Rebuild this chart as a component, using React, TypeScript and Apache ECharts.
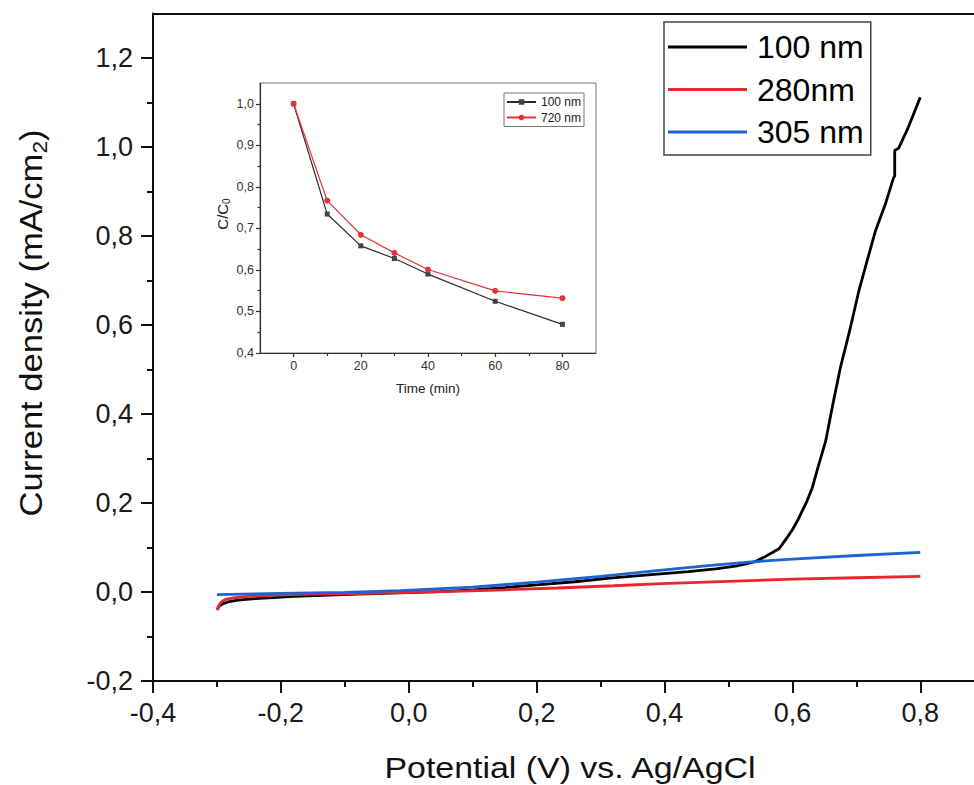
import React, { useEffect, useRef } from 'react';
import * as echarts from 'echarts';

const FONT = '"Liberation Sans", Arial, Helvetica, sans-serif';

// ---- Main chart: linear sweep voltammetry ----
const pot100 = [-0.300, -0.296, -0.290, -0.284, -0.270, -0.259, -0.240, -0.218, -0.180, -0.136, -0.080, -0.013, 0.050, 0.101, 0.150, 0.200, 0.260, 0.314, 0.370, 0.437, 0.480, 0.511, 0.530, 0.543, 0.558, 0.568, 0.579, 0.593, 0.600, 0.609, 0.615, 0.623, 0.631, 0.641, 0.652, 0.663, 0.675, 0.690, 0.704, 0.717, 0.730, 0.745, 0.758, 0.760, 0.760, 0.766, 0.780, 0.800];
const cur100 = [-0.040, -0.031, -0.026, -0.023, -0.019, -0.017, -0.015, -0.013, -0.010, -0.0075, -0.005, -0.002, 0.001, 0.005, 0.010, 0.016, 0.023, 0.031, 0.038, 0.046, 0.052, 0.058, 0.064, 0.069, 0.080, 0.088, 0.097, 0.125, 0.140, 0.163, 0.181, 0.205, 0.234, 0.285, 0.339, 0.420, 0.504, 0.590, 0.677, 0.745, 0.812, 0.870, 0.930, 0.935, 0.992, 0.997, 1.040, 1.112];

const pot280 = [-0.300, -0.296, -0.292, -0.285, -0.275, -0.250, -0.218, -0.150, -0.095, 0.000, 0.069, 0.150, 0.232, 0.320, 0.396, 0.500, 0.601, 0.700, 0.800];
const cur280 = [-0.040, -0.028, -0.021, -0.016, -0.0135, -0.010, -0.0075, -0.005, -0.004, -0.001, 0.0015, 0.005, 0.009, 0.014, 0.019, 0.024, 0.029, 0.032, 0.035];

const pot305 = [-0.300, -0.200, -0.100, -0.013, 0.100, 0.200, 0.300, 0.396, 0.460, 0.531, 0.600, 0.700, 0.800];
const cur305 = [-0.006, -0.003, -0.001, 0.003, 0.011, 0.022, 0.035, 0.049, 0.058, 0.067, 0.074, 0.082, 0.089];

const mainXLabels = [-0.4, -0.2, 0, 0.2, 0.4, 0.6, 0.8];
const mainXMinor = [-0.3, -0.1, 0.1, 0.3, 0.5, 0.7];
const mainYLabels = [-0.2, 0, 0.2, 0.4, 0.6, 0.8, 1.0, 1.2];
const mainYMinor = [-0.1, 0.1, 0.3, 0.5, 0.7, 0.9, 1.1];

// ---- Inset: C/C0 vs time ----
const timeMin = [0, 10, 20, 30, 40, 60, 80];
const ratio100 = [1.0, 0.7345, 0.658, 0.6275, 0.590, 0.5245, 0.469];
const ratio720 = [1.0, 0.7667, 0.6846, 0.641, 0.601, 0.5495, 0.532];

const insetXLabels = [0, 20, 40, 60, 80];
const insetXMinor = [10, 30, 50, 70];
const insetYLabels = [0.4, 0.5, 0.6, 0.7, 0.8, 0.9, 1.0];
const insetYMinor = [0.45, 0.55, 0.65, 0.75, 0.85, 0.95];

const pair = (xs: number[], ys: number[]) => xs.map((x, i) => [x, ys[i]]);
const comma = (v: number) => v.toFixed(1).replace('.', ',');

const AX = '#111';
const INSET_AX = '#333';

export default function App() {
  const ref = useRef<HTMLDivElement>(null);

  useEffect(() => {
    const chart = echarts.init(ref.current!, null, { renderer: 'svg' });
    const option: any = {
      animation: false,
      backgroundColor: '#ffffff',
      grid: [
        { left: 153, right: 0, top: 13.5, bottom: 104 },
        { left: 260, top: 83, width: 336, height: 270, show: true, borderColor: '#777', borderWidth: 1, backgroundColor: 'transparent' },
      ],
      xAxis: [
        {
          type: 'value', gridIndex: 0, min: -0.4, max: 0.884, position: 'bottom',
          axisLine: { show: true, onZero: false, lineStyle: { color: AX, width: 2 } },
          axisTick: { show: true, customValues: mainXLabels, length: 12, lineStyle: { color: AX, width: 2 } },
          axisLabel: { customValues: mainXLabels, margin: 18, fontSize: 27, color: '#1a1a1a', fontFamily: FONT, formatter: comma },
          splitLine: { show: false },
        },
        {
          type: 'value', gridIndex: 0, min: -0.4, max: 0.884, position: 'bottom',
          axisLine: { show: false, onZero: false },
          axisTick: { show: true, customValues: mainXMinor, length: 6, lineStyle: { color: AX, width: 2 } },
          axisLabel: { show: false },
          splitLine: { show: false },
        },
        {
          type: 'value', gridIndex: 0, min: -0.4, max: 0.884, position: 'top',
          axisLine: { show: true, onZero: false, lineStyle: { color: AX, width: 2 } },
          axisTick: { show: false }, axisLabel: { show: false }, splitLine: { show: false },
        },
        {
          type: 'value', gridIndex: 1, min: -10, max: 90, position: 'bottom',
          axisLine: { show: true, onZero: false, lineStyle: { color: INSET_AX, width: 1.2 } },
          axisTick: { show: true, customValues: insetXLabels, length: 4, lineStyle: { color: INSET_AX, width: 1.2 } },
          axisLabel: { customValues: insetXLabels, margin: 6, fontSize: 12.5, color: '#333', fontFamily: FONT },
          splitLine: { show: false },
        },
        {
          type: 'value', gridIndex: 1, min: -10, max: 90, position: 'bottom',
          axisLine: { show: false, onZero: false },
          axisTick: { show: true, customValues: insetXMinor, length: 3, lineStyle: { color: INSET_AX, width: 1.2 } },
          axisLabel: { show: false }, splitLine: { show: false },
        },
      ],
      yAxis: [
        {
          type: 'value', gridIndex: 0, min: -0.2, max: 1.3, position: 'left',
          axisLine: { show: true, onZero: false, lineStyle: { color: AX, width: 2 } },
          axisTick: { show: true, customValues: mainYLabels, length: 12, lineStyle: { color: AX, width: 2 } },
          axisLabel: { customValues: mainYLabels, margin: 20, fontSize: 27, color: '#1a1a1a', fontFamily: FONT, formatter: comma },
          splitLine: { show: false },
        },
        {
          type: 'value', gridIndex: 0, min: -0.2, max: 1.3, position: 'left',
          axisLine: { show: false, onZero: false },
          axisTick: { show: true, customValues: mainYMinor, length: 6, lineStyle: { color: AX, width: 2 } },
          axisLabel: { show: false }, splitLine: { show: false },
        },
        {
          type: 'value', gridIndex: 1, min: 0.4, max: 1.05, position: 'left',
          axisLine: { show: true, onZero: false, lineStyle: { color: INSET_AX, width: 1.2 } },
          axisTick: { show: true, customValues: insetYLabels, length: 4, lineStyle: { color: INSET_AX, width: 1.2 } },
          axisLabel: { customValues: insetYLabels, margin: 6, fontSize: 12.5, color: '#333', fontFamily: FONT, formatter: comma },
          splitLine: { show: false },
        },
        {
          type: 'value', gridIndex: 1, min: 0.4, max: 1.05, position: 'left',
          axisLine: { show: false, onZero: false },
          axisTick: { show: true, customValues: insetYMinor, length: 2.5, lineStyle: { color: INSET_AX, width: 1.2 } },
          axisLabel: { show: false }, splitLine: { show: false },
        },
      ],
      legend: [
        {
          data: ['100 nm', '280nm', '305 nm'],
          orient: 'vertical', left: 664, top: 22,
          icon: 'rect', itemWidth: 79, itemHeight: 3, itemGap: 2.5,
          padding: [5, 7, 3, 4],
          borderColor: '#444', borderWidth: 1.5, backgroundColor: '#fff',
          selectedMode: false,
          textStyle: { fontSize: 32, color: '#000', fontFamily: FONT, lineHeight: 40, padding: [0, 0, 0, 5] },
          z: 10,
        },
        {
          data: ['inset-100', 'inset-720'],
          orient: 'vertical', left: 504, top: 93,
          itemWidth: 29, itemHeight: 7, itemGap: 1.5,
          padding: [2, 3, 2, 2],
          borderColor: '#777', borderWidth: 1, backgroundColor: '#fff',
          selectedMode: false,
          formatter: (n: string) => (n === 'inset-100' ? '100 nm' : '720 nm'),
          textStyle: { fontSize: 12, color: '#222', fontFamily: FONT, lineHeight: 14, padding: [0, 0, 0, 0] },
          z: 10,
        },
      ],
      series: [
        {
          type: 'line', name: '100 nm', xAxisIndex: 0, yAxisIndex: 0,
          data: pair(pot100, cur100), showSymbol: false, symbol: 'none',
          lineStyle: { color: '#000', width: 2.8 }, itemStyle: { color: '#000' },
        },
        {
          type: 'line', name: '280nm', xAxisIndex: 0, yAxisIndex: 0,
          data: pair(pot280, cur280), showSymbol: false, symbol: 'none',
          lineStyle: { color: '#e8262f', width: 2.8 }, itemStyle: { color: '#e8262f' },
        },
        {
          type: 'line', name: '305 nm', xAxisIndex: 0, yAxisIndex: 0,
          data: pair(pot305, cur305), showSymbol: false, symbol: 'none',
          lineStyle: { color: '#1d63d8', width: 2.8 }, itemStyle: { color: '#1d63d8' },
        },
        {
          type: 'line', name: 'inset-100', xAxisIndex: 3, yAxisIndex: 2,
          data: pair(timeMin, ratio100), symbol: 'rect', symbolSize: 5,
          lineStyle: { color: '#2a2a2a', width: 1.2 }, itemStyle: { color: '#444' },
        },
        {
          type: 'line', name: 'inset-720', xAxisIndex: 3, yAxisIndex: 2,
          data: pair(timeMin, ratio720), symbol: 'circle', symbolSize: 6,
          lineStyle: { color: '#e8323a', width: 1.2 }, itemStyle: { color: '#e8323a' },
        },
      ],
      graphic: [
        {
          type: 'text', x: 570, y: 768, scaleX: 1.13,
          style: { text: 'Potential (V) vs. Ag/AgCl', fontSize: 30, fontFamily: FONT, fill: '#111', align: 'center', verticalAlign: 'middle' },
        },
        {
          type: 'text', x: 31, y: 323, rotation: Math.PI / 2, scaleX: 1.08,
          style: {
            text: 'Current density (mA/cm{sub|2})', fontSize: 32, fontFamily: FONT, fill: '#111', lineHeight: 38,
            align: 'center', verticalAlign: 'middle',
            rich: { sub: { fontSize: 21, lineHeight: 21, verticalAlign: 'bottom', fontFamily: FONT, fill: '#111' } },
          },
        },
        {
          type: 'text', x: 428, y: 388,
          style: { text: 'Time (min)', fontSize: 13.5, fontFamily: FONT, fill: '#222', align: 'center', verticalAlign: 'middle' },
        },
        {
          type: 'text', x: 222, y: 214, rotation: Math.PI / 2,
          style: {
            text: 'C/C{sub|0}', fontSize: 15, fontFamily: FONT, fill: '#222', lineHeight: 18,
            align: 'center', verticalAlign: 'middle',
            rich: { sub: { fontSize: 10, lineHeight: 10, verticalAlign: 'bottom', fontFamily: FONT, fill: '#222' } },
          },
        },
      ],
    };
    chart.setOption(option);
    return () => chart.dispose();
  }, []);

  return <div ref={ref} style={{ position: 'absolute', left: 0, top: 0, width: 974, height: 785, background: '#fff' }} />;
}
